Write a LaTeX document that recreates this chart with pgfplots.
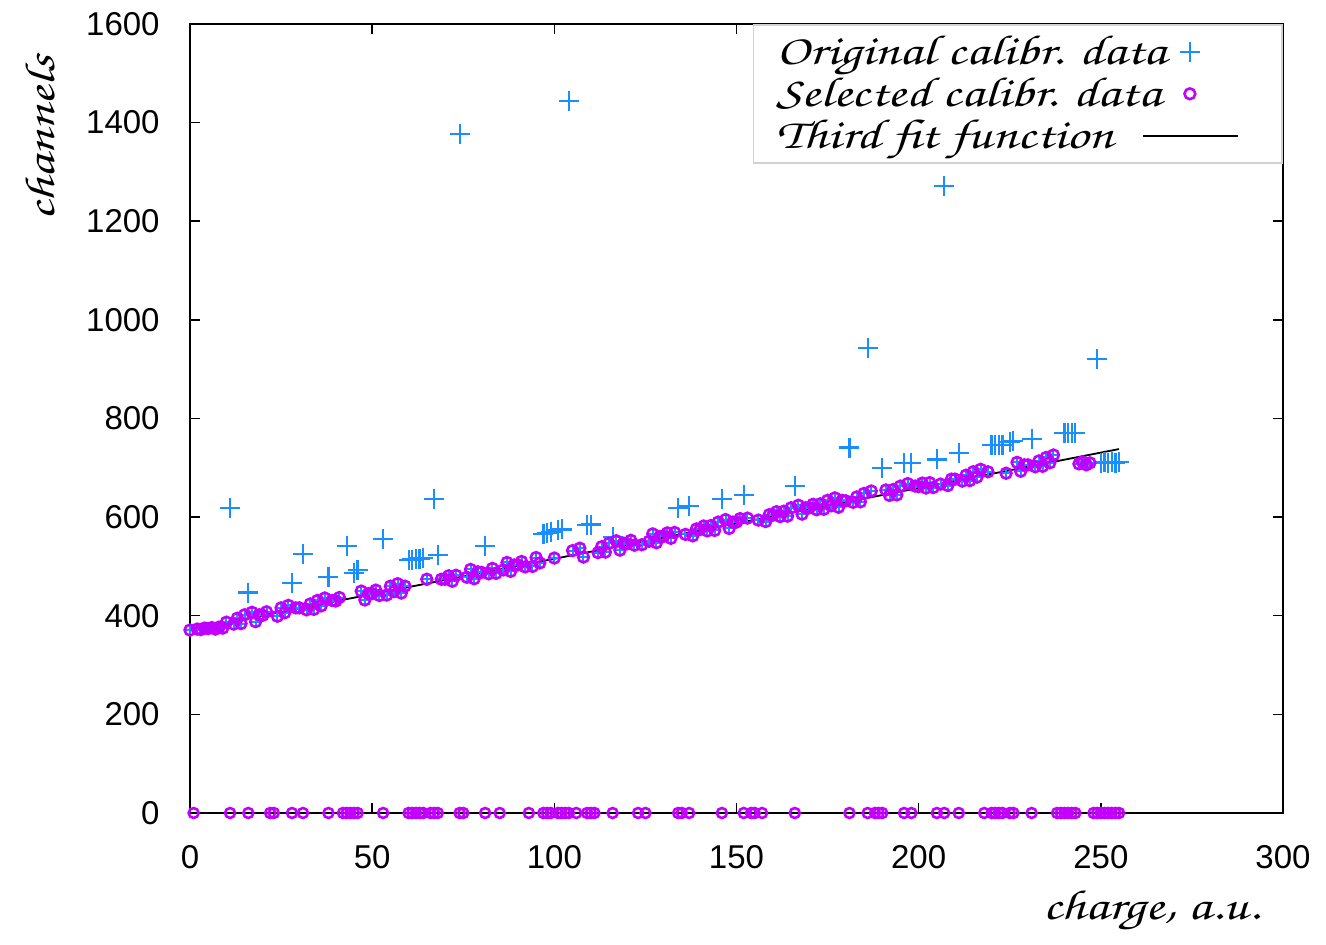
\documentclass[border=0pt]{standalone}
\usepackage{pgfplots}
\pgfplotsset{compat=1.18}
\usepackage{pgfplotstable}
\usepackage{fontspec}
\setmainfont{Liberation Sans}
\newfontfamily\hand{texgyrechorus-mediumitalic}[Extension=.otf, FakeStretch=1.3]
\definecolor{cblue}{RGB}{25,142,255}
\definecolor{cpurple}{RGB}{195,0,255}
\pgfplotsset{
  legmark/.style={legend image code/.code={\draw[##1] plot coordinates {(7bp,0bp)}; \path (0bp,0bp) (41bp,0bp);}},
  legline/.style={legend image code/.code={\draw[##1, overlay] (-16.5bp,0bp)--(0bp,0bp); \draw[##1] (0bp,0bp)--(31bp,0bp); \path (41bp,0bp);}},
}

\pgfplotstableread{
x y
0 371
2 373
3 372
4 375
5 374
6 376
7 373
8 377
9 375
10 387
12 383
13 395
14 384
15 402
17 407
18 388
19 402
20 401
21 408
24 399
25 416
26 406
27 421
29 416
30 416
32 412
33 424
34 413
35 431
36 420
37 436
39 431
40 430
41 437
47 450
48 432
49 445
50 445
51 452
52 441
54 442
55 460
56 449
57 465
58 446
59 460
65 474
69 474
70 474
71 481
72 470
73 482
76 478
77 494
78 475
79 489
80 488
82 485
83 496
84 486
86 493
87 508
88 490
89 503
90 503
91 510
92 499
94 500
95 518
96 507
100 517
105 532
107 537
108 519
112 528
113 540
114 529
115 547
117 552
118 533
119 547
120 546
121 553
122 543
124 544
126 551
127 566
128 548
129 561
130 561
131 568
132 557
133 569
136 565
138 562
139 576
140 575
141 582
142 572
143 583
144 573
145 590
147 595
148 577
149 590
150 590
151 597
153 598
156 594
158 591
159 605
160 604
161 611
162 601
163 612
164 602
165 619
167 624
168 606
169 619
170 619
171 626
172 615
173 627
174 616
175 634
176 623
177 639
178 620
179 634
180 633
182 630
183 641
184 631
185 648
187 653
191 655
192 644
193 656
194 645
195 663
197 668
199 663
200 662
201 669
202 659
203 670
204 660
206 667
208 664
209 677
210 677
212 673
213 685
214 674
215 692
216 681
217 697
219 692
224 689
227 711
228 693
229 706
230 706
232 702
233 714
234 703
235 721
236 710
237 726
244 708
245 712
246 706
247 710
}\lineData

\pgfplotstableread{
x y
11 619
16 447
28 466
31 525
38 479
43 542
45 487
46 493
53 555
60 513
61 514
62 515
63 516
64 517
67 637
68 523
74 1377
81 542
97 565
98 568
99 570
101 574
102 575
104 1444
109 584
110 585
116 560
134 618
137 623
146 636
152 645
166 663
181 741
186 943
190 699
196 709
198 709
205 717
207 1272
211 730
220 746
221 746
222 747
223 746
225 752
226 755
231 758
240 770
241 770
242 770
243 770
249 921
250 710
251 711
252 709
253 712
254 710
255 711
}\outData

\pgfplotstableread{
x y
1 0
11 0
16 0
22 0
23 0
28 0
31 0
38 0
42 0
43 0
44 0
45 0
46 0
53 0
60 0
61 0
62 0
63 0
64 0
66 0
67 0
68 0
74 0
75 0
81 0
85 0
93 0
97 0
98 0
99 0
101 0
102 0
103 0
104 0
106 0
109 0
110 0
111 0
116 0
123 0
125 0
134 0
135 0
137 0
146 0
152 0
154 0
155 0
157 0
166 0
181 0
186 0
188 0
189 0
190 0
196 0
198 0
205 0
207 0
211 0
218 0
220 0
221 0
222 0
223 0
225 0
226 0
231 0
238 0
239 0
240 0
241 0
242 0
243 0
248 0
249 0
250 0
251 0
252 0
253 0
254 0
255 0
}\zeroData

\begin{document}
\begin{tikzpicture}
\useasboundingbox (-95bp,-66bp) rectangle (568bp,406.5bp);
\begin{axis}[
  at={(0,0)}, anchor=south west, scale only axis,
  width=546.5bp, height=394.5bp,
  xmin=0, xmax=300, ymin=0, ymax=1600,
  xtick={0,50,...,300}, ytick={0,200,...,1600},
  tick align=inside, major tick length=5bp,
  every tick/.style={black, line width=0.75bp},
  axis line style={black, line width=1bp},
  scaled ticks=false,
  /pgf/number format/1000 sep={},
  /pgf/number format/assume math mode=true,
  tick label style={font=\fontsize{16.5bp}{19bp}\selectfont},
  yticklabel style={inner sep=0pt, xshift=-15bp},
  xticklabel style={inner sep=0pt, yshift=-16bp},
  clip=false,
  legend cell align=left,
  legend plot pos=right,
  legend style={at={(1,1)}, anchor=north east, draw=black!18, line width=0.8bp,
    fill=white, inner xsep=11.5bp, inner ysep=3bp,
    font=\hand\fontsize{21bp}{21bp}\selectfont,
    nodes={inner sep=0pt, text height=17bp, text depth=4bp},
    column sep=4bp},
]
\addplot[only marks, mark=+, mark size=5bp, color=cblue, line width=1.1bp, legmark]
  table {\outData};
\addlegendentry{Original calibr. data}
\addplot[only marks, mark=+, mark size=2.5bp, color=cblue, line width=1bp, forget plot]
  table {\lineData};
\addplot[only marks, mark=o, mark size=2.7bp, color=cpurple, line width=1.3bp, legmark]
  table {\lineData};
\addlegendentry{Selected calibr. data}
\addplot[only marks, mark=o, mark size=2.5bp, color=cpurple, line width=1.3bp, forget plot]
  table {\zeroData};
\addplot[black, line width=0.9bp, mark=none, legline]
  coordinates {(0,372) (255,738)};
\addlegendentry{Third fit function}
\node[rotate=90, font=\hand\fontsize{21bp}{21bp}\selectfont] at (rel axis cs:-0.137,0.855) {channels};
\node[font=\hand\fontsize{21bp}{21bp}\selectfont] at (rel axis cs:0.88,-0.123) {charge, a.u.};
\end{axis}
\end{tikzpicture}
\end{document}
